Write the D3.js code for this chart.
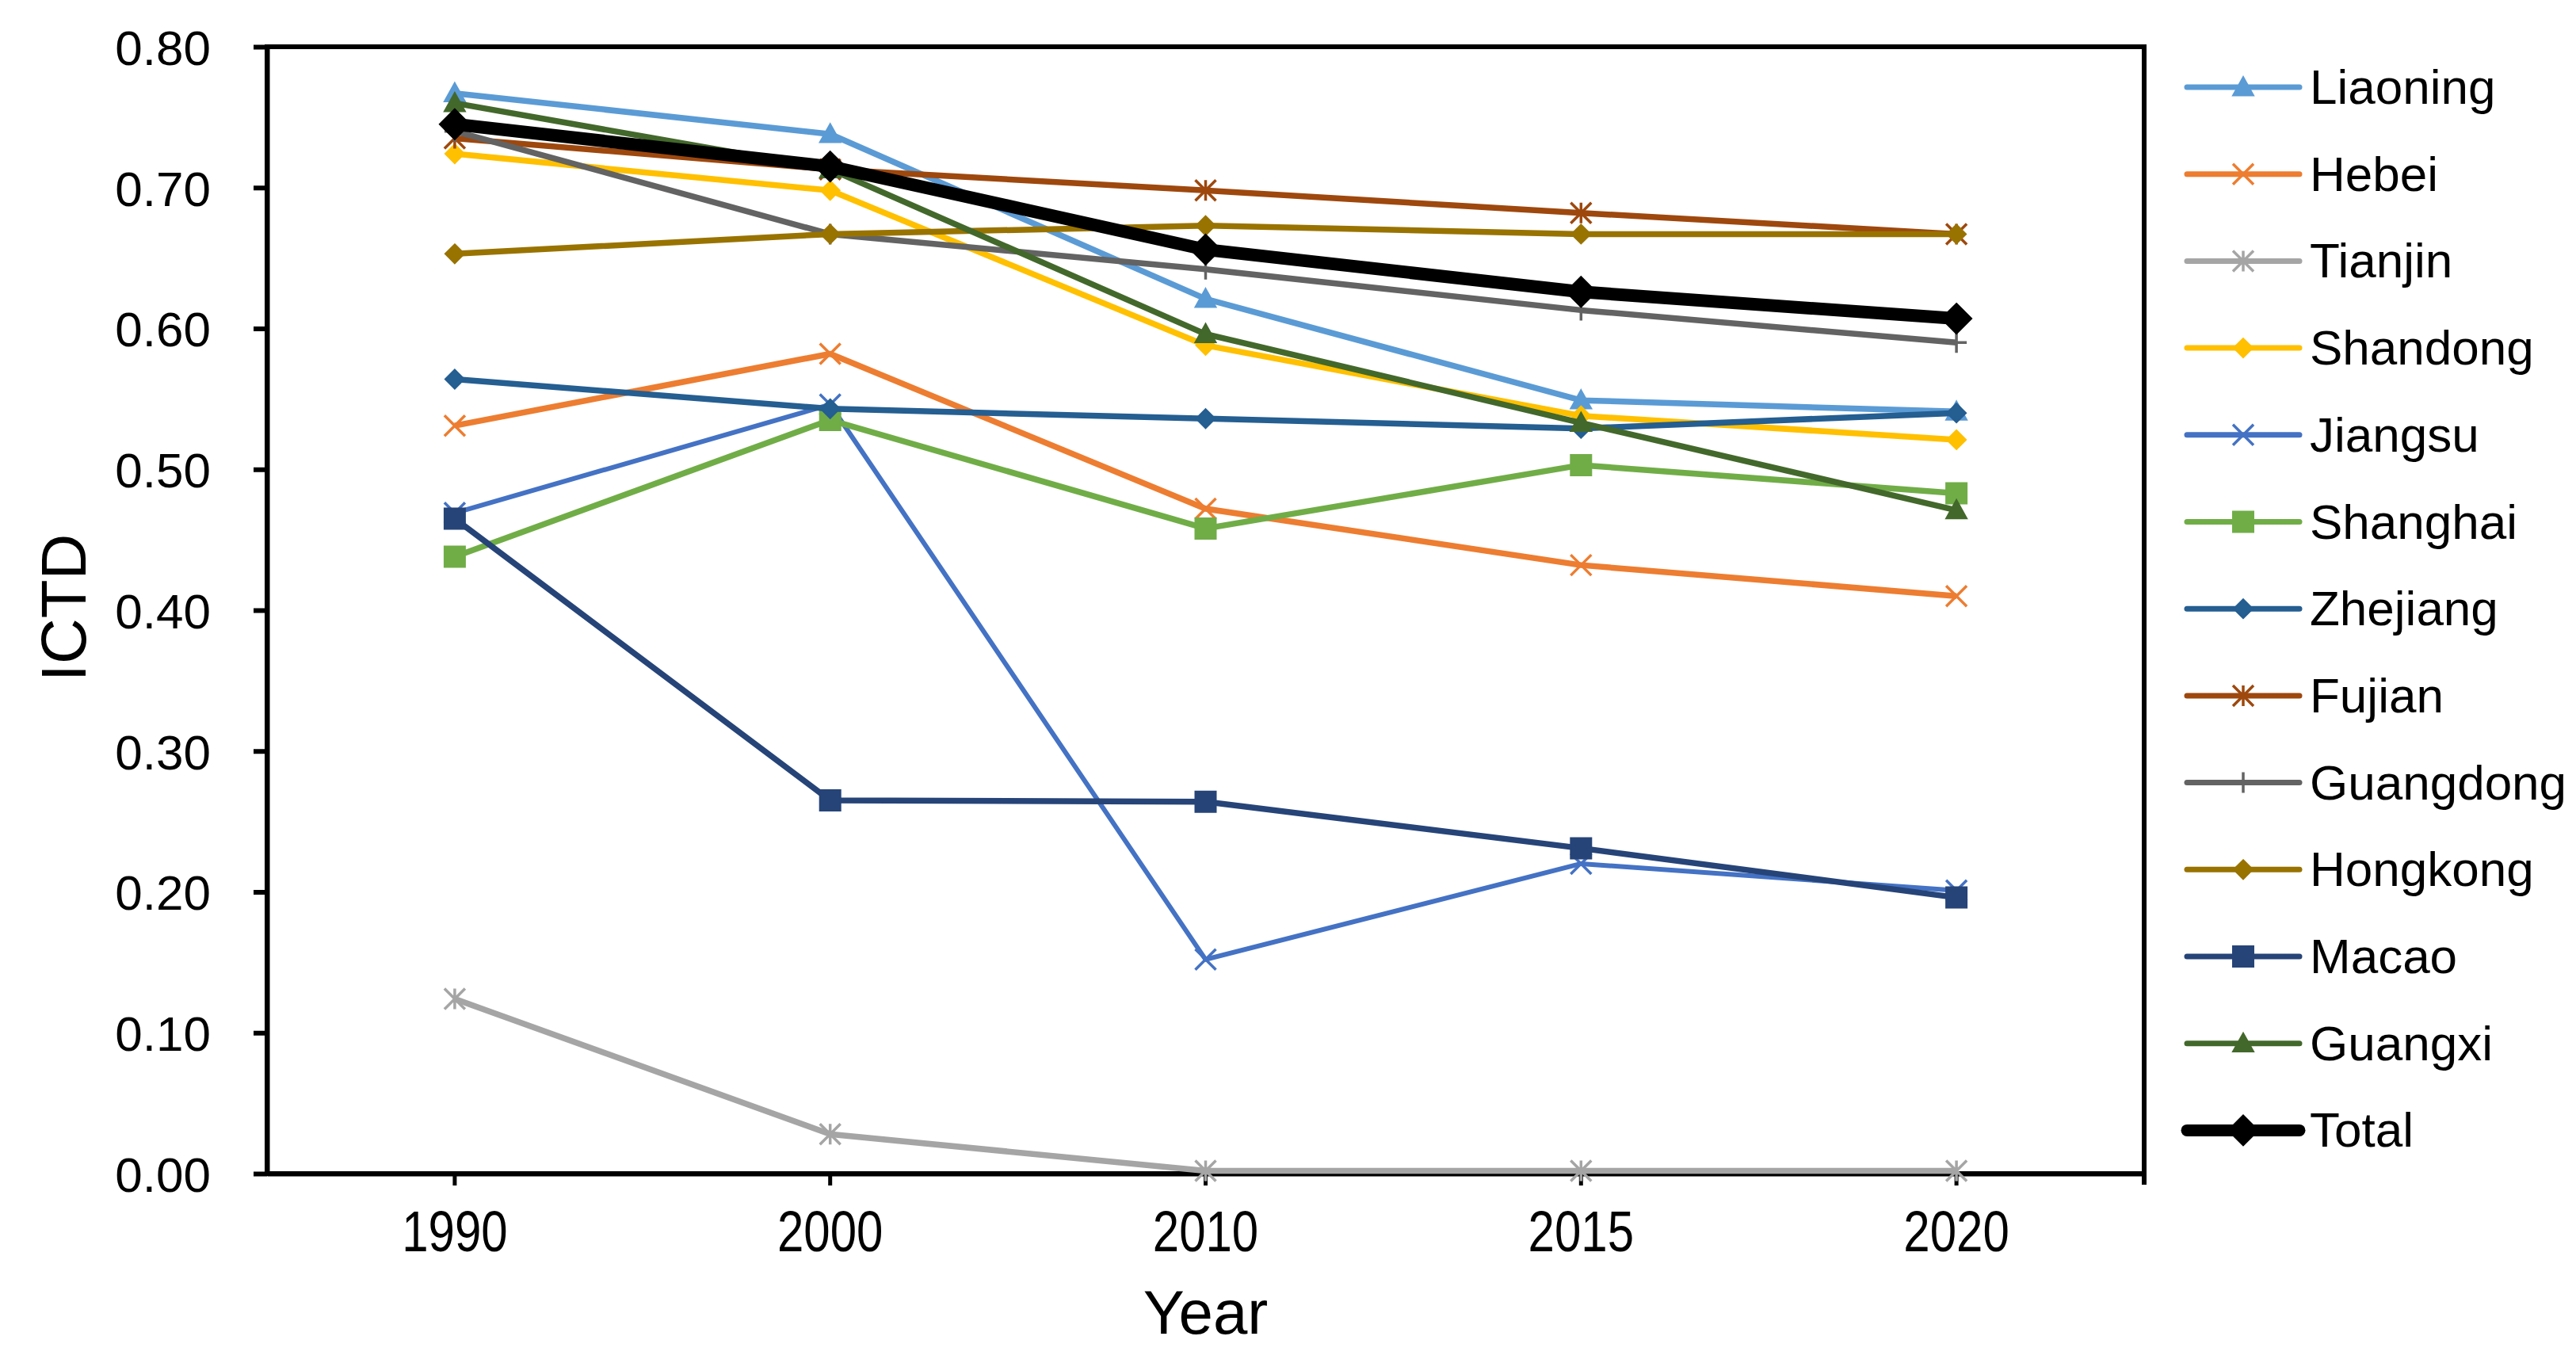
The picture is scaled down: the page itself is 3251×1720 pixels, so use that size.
<!DOCTYPE html>
<html>
<head>
<meta charset="utf-8">
<script src="https://cdn.jsdelivr.net/npm/d3@7"></script>
<style>
  html, body { margin: 0; padding: 0; background: #fff; }
  svg { display: block; }
  text { font-family: "Liberation Sans", Arial, sans-serif; fill: #000; }
</style>
</head>
<body>
<svg id="chart" width="3251" height="1720"></svg>
<script>
// categories
const years = ["1990", "2000", "2010", "2015", "2020"];

// series values (ICTD)
const liaoning  = [0.767, 0.738, 0.621, 0.549, 0.541];
const hebei     = [0.531, 0.582, 0.472, 0.432, 0.410];
const tianjin   = [0.124, 0.028, 0.002, 0.002, 0.002];
const shandong  = [0.724, 0.698, 0.588, 0.538, 0.521];
const jiangsu   = [0.469, 0.546, 0.152, 0.220, 0.201];
const shanghai  = [0.438, 0.535, 0.458, 0.503, 0.483];
const zhejiang  = [0.564, 0.543, 0.536, 0.529, 0.540];
const fujian    = [0.735, 0.713, 0.698, 0.682, 0.667];
const guangdong = [0.740, 0.667, 0.642, 0.613, 0.590];
const hongkong  = [0.653, 0.667, 0.673, 0.667, 0.667];
const macao     = [0.465, 0.265, 0.264, 0.231, 0.196];
const guangxi   = [0.760, 0.713, 0.596, 0.533, 0.471];
const total     = [0.745, 0.715, 0.656, 0.626, 0.607];

const yTicks = [0, 0.1, 0.2, 0.3, 0.4, 0.5, 0.6, 0.7, 0.8];

// series table built from the arrays above (drawing order = Excel series order)
const series = [
    {name: "Liaoning",  values: liaoning,  color: "#5B9BD5", marker: "triangle"},
    {name: "Hebei",     values: hebei,     color: "#ED7D31", marker: "x"},
    {name: "Tianjin",   values: tianjin,   color: "#A5A5A5", marker: "star"},
    {name: "Shandong",  values: shandong,  color: "#FFC000", marker: "diamond"},
    {name: "Jiangsu",   values: jiangsu,   color: "#4472C4", marker: "x", thin: true},
    {name: "Shanghai",  values: shanghai,  color: "#70AD47", marker: "square"},
    {name: "Zhejiang",  values: zhejiang,  color: "#255E91", marker: "diamond"},
    {name: "Fujian",    values: fujian,    color: "#9E480E", marker: "star"},
    {name: "Guangdong", values: guangdong, color: "#636363", marker: "plus"},
    {name: "Hongkong",  values: hongkong,  color: "#997300", marker: "diamond"},
    {name: "Macao",     values: macao,     color: "#264478", marker: "square"},
    {name: "Guangxi",   values: guangxi,   color: "#43682B", marker: "triangle"},
    {name: "Total",     values: total,     color: "#000000", marker: "diamond", bold: true}
];

const svg = d3.select("#chart");
const plot = {left: 337, right: 2706, top: 59, bottom: 1481};

const x = d3.scaleBand().domain(years).range([plot.left, plot.right]).padding(0);
const cx = d => x(d) + x.bandwidth() / 2;
const y = d3.scaleLinear().domain([0, 0.8]).range([plot.bottom, plot.top]);

// frame
svg.append("rect")
    .attr("x", plot.left).attr("y", plot.top)
    .attr("width", plot.right - plot.left).attr("height", plot.bottom - plot.top)
    .attr("fill", "none").attr("stroke", "#000").attr("stroke-width", 6);
svg.append("line")
    .attr("x1", plot.right).attr("x2", plot.right)
    .attr("y1", plot.bottom).attr("y2", plot.bottom + 14)
    .attr("stroke", "#000").attr("stroke-width", 6);

// y axis
const yAxis = svg.append("g")
    .attr("transform", `translate(${plot.left},0)`)
    .call(d3.axisLeft(y).tickValues(yTicks).tickFormat(d3.format(".2f")).tickSize(17).tickSizeOuter(0).tickPadding(54));
yAxis.select(".domain").attr("stroke-width", 6);
yAxis.selectAll(".tick line").attr("stroke-width", 6);
yAxis.selectAll(".tick text")
    .attr("font-size", 62)
    .attr("font-family", "Liberation Sans, Arial, sans-serif")
    .attr("dy", "0.36em");

// x axis
const xAxis = svg.append("g")
    .attr("transform", `translate(0,${plot.bottom})`)
    .call(d3.axisBottom(x).tickSize(15).tickSizeOuter(0));
xAxis.select(".domain").attr("stroke-width", 6);
xAxis.selectAll(".tick line").attr("stroke-width", 5);
// tick labels are drawn a bit taller than wide in the picture
const sy = 1.2;
xAxis.selectAll(".tick text")
    .attr("font-size", 60)
    .attr("font-family", "Liberation Sans, Arial, sans-serif")
    .attr("dy", null)
    .attr("y", 98 / sy)
    .attr("transform", `scale(1,${sy})`);

// axis titles
svg.append("text")
    .attr("x", cx("2010")).attr("y", 1683)
    .attr("text-anchor", "middle")
    .attr("font-size", 78)
    .text("Year");
svg.append("text")
    .attr("transform", "translate(108,767) rotate(-90)")
    .attr("text-anchor", "middle")
    .attr("font-size", 80)
    .text("ICTD");

// markers
function markerPath(type, s) {
    const h = s / 2;
    switch (type) {
        case "triangle": return `M0,${-h}L${h},${h * 0.8}L${-h},${h * 0.8}Z`;
        case "square":   return `M${-h},${-h}H${h}V${h}H${-h}Z`;
        case "diamond":  return `M0,${-h}L${h},0L0,${h}L${-h},0Z`;
        case "x":        return `M${-h},${-h}L${h},${h}M${h},${-h}L${-h},${h}`;
        case "star":     return `M${-h},${-h}L${h},${h}M${h},${-h}L${-h},${h}M0,${-h}V${h}`;
        case "plus":     return `M0,${-h}V${h}M${-h},0H${h}`;
    }
}
const filled = t => t === "triangle" || t === "square" || t === "diamond";
const markerSize = s => s.bold ? 38 : (s.marker === "square" ? 26 : (s.marker === "diamond" ? 24 : 26));

function drawMarker(g, s, px, py) {
    const p = g.append("path")
        .attr("transform", `translate(${px},${py})`)
        .attr("d", markerPath(s.marker, markerSize(s)));
    if (filled(s.marker)) {
        p.attr("fill", s.color).attr("stroke", s.color).attr("stroke-width", 2);
    } else {
        p.attr("fill", "none").attr("stroke", s.color).attr("stroke-width", 3.5);
    }
}

const line = d3.line()
    .x((d, i) => cx(years[i]))
    .y(d => y(d));

const lines = svg.append("g");
series.forEach(s => {
    const g = lines.append("g");
    g.append("path")
        .attr("d", line(s.values))
        .attr("fill", "none")
        .attr("stroke", s.color)
        .attr("stroke-width", s.bold ? 16 : (s.thin ? 6 : 7.5))
        .attr("stroke-linejoin", "round");
    s.values.forEach((v, i) => drawMarker(g, s, cx(years[i]), y(v)));
});

// legend
const legend = svg.append("g");
const legendTop = 110, legendStep = 109.7;
series.forEach((s, i) => {
    const ly = legendTop + i * legendStep;
    const g = legend.append("g");
    g.append("line")
        .attr("x1", 2760).attr("x2", 2902)
        .attr("y1", ly).attr("y2", ly)
        .attr("stroke", s.color)
        .attr("stroke-width", s.bold ? 15 : 7)
        .attr("stroke-linecap", "round");
    drawMarker(g, s, 2831, ly);
    g.append("text")
        .attr("x", 2915).attr("y", ly + 21)
        .attr("font-size", 62)
        .text(s.name);
});
</script>
</body>
</html>
